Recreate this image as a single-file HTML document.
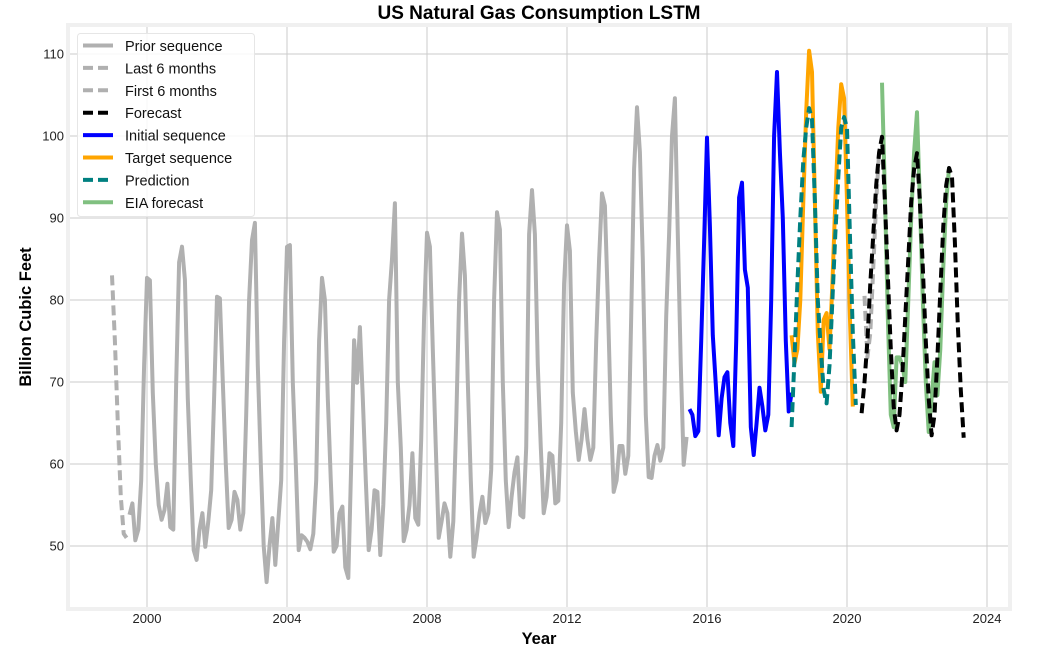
<!DOCTYPE html>
<html><head><meta charset="utf-8">
<style>
html,body{margin:0;padding:0;background:#fff;}
svg{display:block;font-family:"Liberation Sans","DejaVu Sans",sans-serif;}
</style></head>
<body>
<svg id="chart" width="1054" height="657" viewBox="0 0 1054 657" xmlns="http://www.w3.org/2000/svg">
  <rect x="0" y="0" width="1054" height="657" fill="#ffffff"/>
  <text x="539" y="19" text-anchor="middle" font-size="19" font-weight="bold" fill="#000">US Natural Gas Consumption LSTM</text>
  <rect x="68" y="25" width="942" height="584" fill="#fff" stroke="#f0f0f0" stroke-width="4"/>
  <g id="grid"></g>
  <g id="ticks"></g>
  <g id="series"></g>
  <text x="539" y="644" text-anchor="middle" font-size="16.5" font-weight="bold" fill="#000">Year</text>
  <text transform="translate(31,317) rotate(-90)" text-anchor="middle" font-size="16.5" font-weight="bold" fill="#000">Billion Cubic Feet</text>
  <g id="legend"></g>
</svg>
<script>
// ---- data (monthly values, Billion Cubic Feet) ----
const xTicks = [2000, 2004, 2008, 2012, 2016, 2020, 2024];
const yTicks = [50, 60, 70, 80, 90, 100, 110];

const lastSixStart = 1999.0;
const lastSix = [83, 75, 65, 56, 51.5, 51];

const priorStart = 1999 + 6/12;
const prior = [
  53.8, 55.2, 50.7, 52, 58, 72,
  82.7, 82.4, 68.7, 60, 55, 53.2, 54.4, 57.6, 52.3, 52, 70, 84.6,
  86.5, 82.5, 68, 58, 49.5, 48.3, 52, 54, 49.9, 53, 56.8, 68,
  80.4, 80.2, 70, 60, 52.2, 53.2, 56.6, 55.6, 52, 54, 66, 80,
  87.3, 89.4, 72, 60, 50, 45.6, 50, 53.4, 47.7, 53, 58, 75,
  86.5, 86.7, 70, 60, 49.5, 51.3, 51, 50.5, 49.6, 51.5, 58, 75,
  82.7, 80, 68, 58, 49.3, 50, 54, 54.8, 47.4, 46.1, 60, 75.1,
  69.9, 76.7, 68, 58, 49.5, 52, 56.8, 56.6, 48.9, 55, 65, 80,
  85, 91.8, 70, 62, 50.6, 52, 55, 61.3, 53.4, 52.6, 63, 78,
  88.2, 86.5, 74, 62, 51, 53, 55.2, 54, 48.7, 53, 65, 80,
  88.1, 83, 70, 58, 48.7, 51, 54, 56, 52.8, 54, 59.3, 80,
  90.7, 88.6, 70, 58, 52.3, 56, 59, 60.8, 53.8, 53.5, 62, 88,
  93.4, 88, 72, 62, 54, 56, 61.3, 61, 55.2, 55.5, 65, 82,
  89.1, 86, 68.7, 64, 60.5, 63, 66.7, 63, 60.5, 62, 75, 85,
  93, 91.5, 80, 66, 56.6, 58, 62.2, 62.2, 58.8, 61, 78, 96,
  103.5, 98, 85, 66, 58.4, 58.3, 61, 62.3, 60.4, 62, 78, 88,
  100, 104.6, 88, 72, 59.9, 63.3
];

const initialStart = 2015 + 6/12;
const initial = [
  66.7, 66, 63.4, 64, 75, 87,
  99.8, 89, 75.7, 69.7, 63.5, 68, 70.6, 71.2, 65, 62.2, 75, 92.5,
  94.3, 83.7, 81.5, 64.5, 61.1, 65, 69.3, 67, 64.1, 66, 80, 100,
  107.8, 98, 90, 75, 66.4, 68.7
];

const targetStart = 2018 + 5/12;
const target = [75.7, 72.3, 74, 80, 92, 103, 110.4, 107.8, 92, 76, 68.8, 77.6, 78.4, 74, 82, 92, 101, 106.3, 104.6, 92, 78, 67];

const predStart = 2018 + 5/12;
const prediction = [64.5, 73, 82, 90, 97, 101, 103.4, 102, 92, 80, 74, 69, 67.4, 72, 80, 88, 95, 101, 102.3, 101, 88, 76, 67.2];

const firstSixStart = 2020 + 6/12;
const firstSix = [80.5, 73, 76, 84, 92, 98];

const forecastStart = 2020 + 5/12;
const forecast = [66.2, 70, 75, 82, 88, 94, 98, 99.9, 92, 83, 74, 67, 64.1, 66, 71, 78, 85, 92, 96, 97.9, 92, 84, 75, 68, 63.5, 66, 73, 81, 89, 94, 96.1, 95, 87, 77, 69, 63.2];

const eiaStart = 2021.0;
const eia = [106.5, 93, 78, 66, 64.5, 73, 73, 72, 70, 80, 90, 98, 102.9, 92, 80, 70, 63.9, 68, 72.4, 68.4, 74, 84, 92, 96.2];

// ---- axes ----
const X0 = 147, PXY = 35;          // 2000 at x=147, 35px per year
const Y0 = 546, PXV = 8.2;         // 50 at y=546, 8.2px per unit
function xs(t){ return X0 + (t - 2000) * PXY; }
function ys(v){ return Y0 - (v - 50) * PXV; }

const NS = "http://www.w3.org/2000/svg";
function mk(tag, attrs){ const e = document.createElementNS(NS, tag); for (const k in attrs) e.setAttribute(k, attrs[k]); return e; }

const grid = document.getElementById('grid');
const ticks = document.getElementById('ticks');
xTicks.forEach(t => {
  const l = mk('line', {x1: xs(t), x2: xs(t), y1: 27, y2: 607, stroke: '#cbcbcb', 'stroke-width': 1});
  
  
  grid.appendChild(l);
  const tx = mk('text', {x: xs(t), y: 623, 'text-anchor': 'middle', 'font-size': 13, fill: '#222'});
  
  
  tx.textContent = t; ticks.appendChild(tx);
});
yTicks.forEach(v => {
  const l = mk('line', {x1: 70, x2: 1008, y1: ys(v), y2: ys(v), stroke: '#cbcbcb', 'stroke-width': 1});
  
  
  grid.appendChild(l);
  const tx = mk('text', {x: 64, y: ys(v) + 4.5, 'text-anchor': 'end', 'font-size': 13, fill: '#222'});
  
  
  tx.textContent = v; ticks.appendChild(tx);
});

const series = document.getElementById('series');
function drawLine(name, start, vals, color, dashed, width){
  const pts = vals.map((v, i) => xs(start + i/12).toFixed(1) + ',' + ys(v).toFixed(1)).join(' ');
  const p = mk('polyline', {points: pts, fill: 'none', stroke: color, 'stroke-width': width, 'stroke-linejoin': 'round'});
  if (dashed) p.setAttribute('stroke-dasharray', '10,5');
  
  
  series.appendChild(p);
}
drawLine('prior-sequence-line', priorStart, prior, '#b0b0b0', false, 4);
drawLine('last-6-months-line', lastSixStart, lastSix, '#b0b0b0', true, 4);
drawLine('first-6-months-line', firstSixStart, firstSix, '#b0b0b0', true, 4);
drawLine('initial-sequence-line', initialStart, initial, '#0000ff', false, 4);
drawLine('target-sequence-line', targetStart, target, '#ffa500', false, 4);
drawLine('eia-forecast-line', eiaStart, eia, '#80c080', false, 4);
drawLine('prediction-line', predStart, prediction, '#008080', true, 4);
drawLine('forecast-line', forecastStart, forecast, '#000000', true, 4);

// ---- legend ----
const legend = document.getElementById('legend');
const lb = mk('rect', {x: 77.5, y: 33.5, width: 177, height: 183, rx: 3, fill: '#ffffff', 'fill-opacity': 0.85, stroke: '#e6e6e6'});


legend.appendChild(lb);
const legendLabels = ['Prior sequence', 'Last 6 months', 'First 6 months', 'Forecast', 'Initial sequence', 'Target sequence', 'Prediction', 'EIA forecast'];
const legendColors = ['#b0b0b0', '#b0b0b0', '#b0b0b0', '#000000', '#0000ff', '#ffa500', '#008080', '#80c080'];
const legendDashed = [false, true, true, true, false, false, true, false];
legendLabels.forEach((lab, i) => {
  const y = 45.5 + i * 22.4;
  const l = mk('line', {x1: 83, x2: 113, y1: y, y2: y, stroke: legendColors[i], 'stroke-width': 4});
  if (legendDashed[i]) l.setAttribute('stroke-dasharray', '10,5');
  
  
  legend.appendChild(l);
  const t = mk('text', {x: 125, y: y + 5.5, 'font-size': 14.5, fill: '#111'});
  
  
  t.textContent = lab;
  legend.appendChild(t);
});
</script>
</body></html>
